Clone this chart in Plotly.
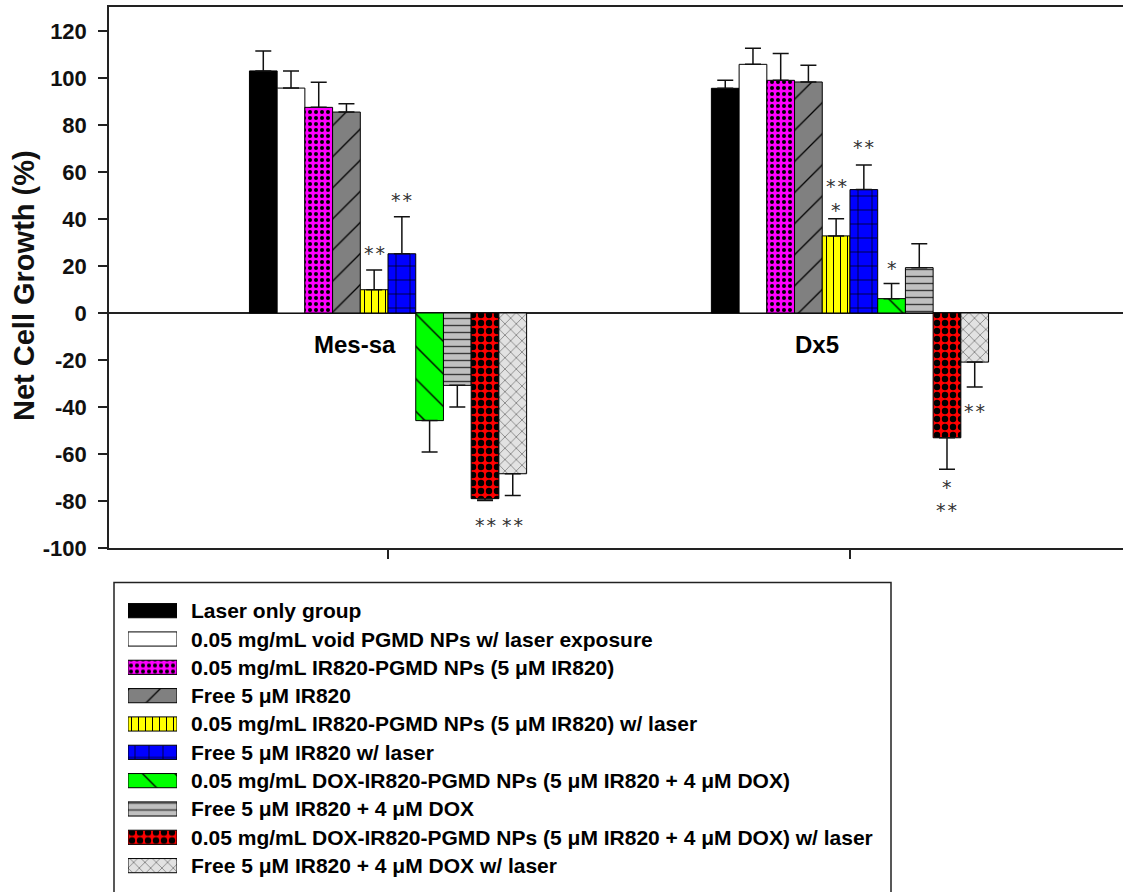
import plotly.graph_objects as go

W, H = 1123, 892
FONT = "Liberation Sans, Arial, sans-serif"
STAR_FONT = "DejaVu Sans, sans-serif"

categories = ["Mes-sa", "Dx5"]
series_names = [
    "Laser only group",
    "0.05 mg/mL void PGMD NPs w/ laser exposure",
    "0.05 mg/mL IR820-PGMD NPs (5 \u03bcM IR820)",
    "Free 5 \u03bcM IR820",
    "0.05 mg/mL IR820-PGMD NPs (5 \u03bcM IR820) w/ laser",
    "Free 5 \u03bcM IR820 w/ laser",
    "0.05 mg/mL DOX-IR820-PGMD NPs (5 \u03bcM IR820 + 4 \u03bcM DOX)",
    "Free 5 \u03bcM IR820 + 4 \u03bcM DOX",
    "0.05 mg/mL DOX-IR820-PGMD NPs (5 \u03bcM IR820 + 4 \u03bcM DOX) w/ laser",
    "Free 5 \u03bcM IR820 + 4 \u03bcM DOX w/ laser",
]
mes_sa_values = [103.0, 95.7, 87.5, 85.5, 9.9, 25.2, -45.8, -30.8, -79.0, -68.4]
mes_sa_errors = [8.5, 7.3, 10.7, 3.5, 8.4, 15.7, 13.4, 9.2, 0.8, 9.3]
dx5_values = [95.6, 105.8, 99.0, 98.3, 32.8, 52.5, 6.1, 19.3, -53.1, -20.9]
dx5_errors = [3.4, 6.8, 11.4, 7.1, 7.3, 10.5, 6.4, 10.2, 13.4, 10.6]
y_ticks = list(range(-100, 121, 20))
y_tick_labels = [str(v) for v in y_ticks]
y_title = "Net Cell Growth (%)"

# significance marks: (category index, series index, y value, text)
star_marks = [
    (0, 4, 27.7, "**"), (0, 5, 50.2, "**"), (0, 8, -88.1, "**"), (0, 9, -88.1, "**"),
    (1, 4, 56.2, "**"), (1, 4, 46.0, "*"), (1, 5, 72.8, "**"), (1, 6, 21.3, "*"),
    (1, 8, -71.9, "*"), (1, 8, -81.6, "**"), (1, 9, -39.6, "**"),
]

# styles per series
bg_colors = ["#000000", "#FFFFFF", "#FF00FF", "#808080", "#FFFF00",
             "#0000FF", "#00FF00", "#C0C0C0", "#FF0000", "#E2E2E2"]
fg_colors = ["#000000", "#000000", "#000000", "#000000", "#000000",
             "#000000", "#000000", "#3A3A3A", "#000000", "#3A3A3A"]
shapes_ = ["", "", ".", "/", "|", "+", "\\", "-", ".", "x"]
sizes = [8, 8, 6, 22, 7, 14, 23, 7, 8, 8]
solids = [0.3, 0.3, 0.35, 0.06, 0.15, 0.1, 0.06, 0.2, 0.5, 0.12]


def pat(s):
    return dict(shape=shapes_[s], fgcolor=fg_colors[s], bgcolor=bg_colors[s],
                size=sizes[s], solidity=solids[s], fillmode="replace")


def py(p):  # pixel row -> paper coordinate
    return 1 - p / H


values_by_cat = [mes_sa_values, dx5_values]
errors_by_cat = [mes_sa_errors, dx5_errors]
n_series = len(series_names)
group_width = 0.6
bar_w = group_width / n_series

fig = go.Figure()
for s in range(n_series):
    vals = [values_by_cat[c][s] for c in range(len(categories))]
    errs = [errors_by_cat[c][s] for c in range(len(categories))]
    plus = [e if v >= 0 else 0 for v, e in zip(vals, errs)]
    minus = [e if v < 0 else 0 for v, e in zip(vals, errs)]
    fig.add_trace(go.Bar(
        x=list(range(len(categories))), y=vals, name=series_names[s],
        marker=dict(color=bg_colors[s], line=dict(color="#000000", width=1), pattern=pat(s)),
        error_y=dict(type="data", symmetric=False, array=plus, arrayminus=minus,
                     color="#111111", thickness=1.5, width=8),
        showlegend=False,
    ))

# legend swatches drawn as bars on a helper axis (one trace per series, same slot)
for s in range(n_series):
    fig.add_trace(go.Bar(
        x=[1], y=[s], orientation="h", width=0.5, offsetgroup="legend",
        marker=dict(color=bg_colors[s], line=dict(color="#000000", width=1), pattern=pat(s)),
        xaxis="x2", yaxis="y2", showlegend=False, hoverinfo="skip",
    ))

annotations = []
for i, name in enumerate(series_names):
    annotations.append(dict(x=189 / W, xref="paper", y=i, yref="y2", text=name,
                            showarrow=False, xanchor="left", yanchor="middle",
                            font=dict(family=FONT, size=21, color="#000000", weight="bold")))
for c, cat in enumerate(categories):
    annotations.append(dict(x=c - 0.0714, xref="x", y=-13.5, yref="y", text=cat,
                            showarrow=False, xanchor="center", yanchor="middle",
                            font=dict(family=FONT, size=24, color="#000000", weight="bold")))
for c, s, yv, txt in star_marks:
    annotations.append(dict(x=c + (s - (n_series - 1) / 2) * bar_w, xref="x", y=yv, yref="y",
                            text="\u200a".join(txt), showarrow=False, xanchor="center",
                            yanchor="middle", yshift=-5,
                            font=dict(family=STAR_FONT, size=19, color="#333333")))
annotations.append(dict(x=24 / W, xref="paper", y=py(286), yref="paper", text=y_title,
                        textangle=-90, showarrow=False, xanchor="center", yanchor="middle",
                        font=dict(family=FONT, size=29, color="#111111", weight="bold")))

axis_col = "#222222"
fig.update_layout(
    width=W, height=H, margin=dict(l=0, r=0, t=0, b=0),
    paper_bgcolor="white", plot_bgcolor="white",
    barmode="group", bargap=0.4, bargroupgap=0,
    showlegend=False,
    xaxis=dict(domain=[109 / W, 1], range=[-0.604, 1.591], tickvals=[0, 1], ticktext=["", ""],
               ticks="outside", ticklen=9, tickwidth=1.5, tickcolor=axis_col,
               showline=True, linecolor=axis_col, linewidth=1.5, mirror=True,
               showgrid=False, zeroline=False, fixedrange=True, automargin=False),
    yaxis=dict(domain=[py(548), py(7)], range=[-100, 130.2], tickvals=y_ticks,
               ticktext=y_tick_labels, ticklabelstandoff=7,
               ticks="outside", ticklen=9, tickwidth=1.5, tickcolor=axis_col,
               showline=True, linecolor=axis_col, linewidth=1.5,
               showgrid=False, zeroline=True, zerolinecolor=axis_col, zerolinewidth=1.5,
               tickfont=dict(family=FONT, size=22, color="#111111", weight="bold"),
               fixedrange=True, automargin=False),
    xaxis2=dict(domain=[128 / W, 177 / W], range=[0, 1], visible=False, anchor="y2",
                automargin=False),
    yaxis2=dict(domain=[py(879.8), py(596.5)], range=[n_series - 0.5, -0.5],
                visible=False, anchor="x2", automargin=False),
    annotations=annotations,
    shapes=[dict(type="rect", xref="paper", yref="paper", x0=114 / W, x1=891 / W,
                 y0=-0.05, y1=py(582.5), line=dict(color=axis_col, width=1.5),
                 fillcolor="rgba(0,0,0,0)", layer="below")],
)

fig.write_html("out.html")
